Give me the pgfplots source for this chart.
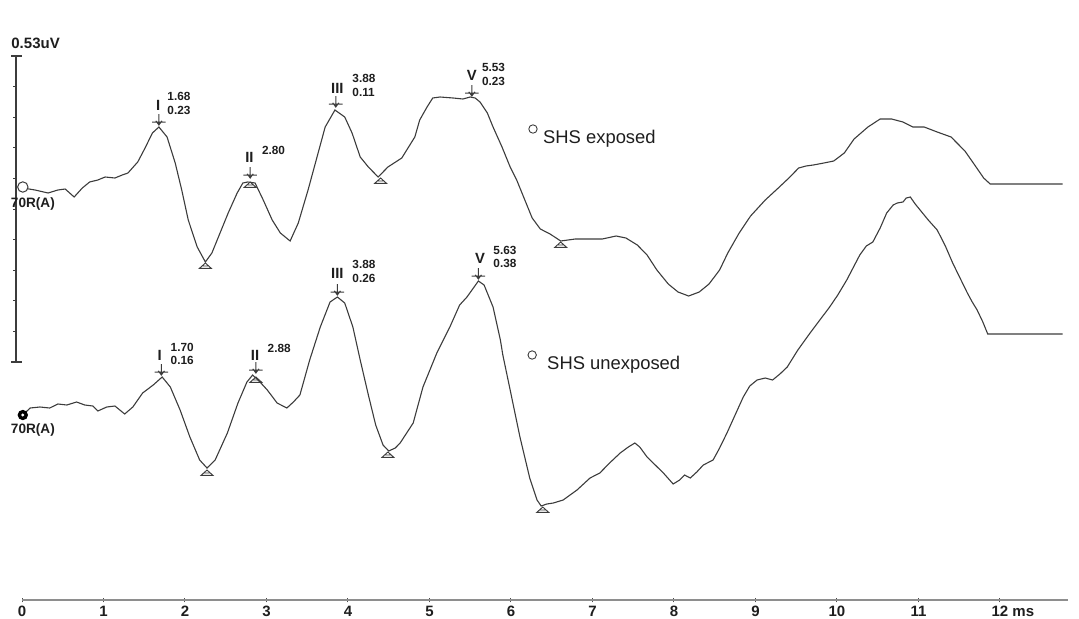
\documentclass[border=0pt]{standalone}
\usepackage{pgfplots}
\usepackage{pgfplotstable}
\pgfplotsset{compat=1.18}
\usepackage{fontspec}
\setmainfont{Liberation Sans}
\definecolor{trace}{HTML}{3C3C3C}
\definecolor{axisgray}{HTML}{8E8E8E}
\definecolor{txt}{HTML}{1E1E1E}

% Upper trace: SHS exposed (x in ms, y = height in picture units)
\pgfplotstableread{
x y
0.01 430
0.16 428
0.32 425
0.44 428
0.53 429
0.64 421
0.74 430
0.83 436
0.93 438
1.02 441
1.14 440
1.23 443
1.30 445
1.42 456
1.51 470
1.60 485
1.68 491
1.78 481
1.88 455
1.96 428
2.04 398
2.15 371
2.25 356
2.33 365
2.43 385
2.53 405
2.64 425
2.71 435
2.77 436
2.86 435
2.96 418
3.07 398
3.17 385
3.29 377
3.39 395
3.51 428
3.62 461
3.72 491
3.84 508
3.96 501
4.05 485
4.15 461
4.25 451
4.37 441
4.49 451
4.66 460
4.82 481
4.88 498
4.97 511
5.04 520
5.13 521
5.29 520
5.41 519
5.50 521
5.56 520
5.62 516
5.71 505
5.78 491
5.89 471
5.99 451
6.07 438
6.17 418
6.26 400
6.36 389
6.48 384
6.61 377
6.79 379
6.99 379
7.12 379
7.29 382
7.41 380
7.55 373
7.67 363
7.79 348
7.93 334
8.05 326
8.18 322
8.31 326
8.43 334
8.56 348
8.66 365
8.80 385
8.94 402
9.12 418
9.28 430
9.41 440
9.53 450
9.62 452
9.71 453
9.84 455
9.96 457
10.09 465
10.21 479
10.38 491
10.53 499
10.67 499
10.81 496
10.93 491
11.07 491
11.23 486
11.40 481
11.57 467
11.69 453
11.80 440
11.88 434
12.77 434
}\uppertab

% Lower trace: SHS unexposed
\pgfplotstableread{
x y
0.01 203
0.10 210
0.22 211
0.34 210
0.44 214
0.55 213
0.67 216
0.77 213
0.87 212
0.93 207
1.04 211
1.14 212
1.26 204
1.36 211
1.48 225
1.61 233
1.72 241
1.82 231
1.94 208
2.06 181
2.18 158
2.27 150
2.37 158
2.52 185
2.65 215
2.76 236
2.83 243
2.92 236
3.01 228
3.13 215
3.25 210
3.33 216
3.41 223
3.53 258
3.66 291
3.78 316
3.87 321
3.96 315
4.06 291
4.15 258
4.25 223
4.34 193
4.43 173
4.50 167
4.58 170
4.64 175
4.80 195
4.92 231
5.09 265
5.25 291
5.37 313
5.46 321
5.60 337
5.67 333
5.78 311
5.87 278
5.90 263
5.99 228
6.11 181
6.23 140
6.32 118
6.37 112
6.44 114
6.52 115
6.64 118
6.81 128
6.97 140
7.09 145
7.21 155
7.34 165
7.44 171
7.52 175
7.58 171
7.67 161
7.77 153
7.87 145
7.99 134
8.07 138
8.13 143
8.20 140
8.28 146
8.36 153
8.48 158
8.56 170
8.65 185
8.75 203
8.85 221
8.93 232
9.02 238
9.12 240
9.21 238
9.30 244
9.39 251
9.52 268
9.67 285
9.79 298
9.91 311
10.01 323
10.12 338
10.28 363
10.36 372
10.44 376
10.53 390
10.61 405
10.69 413
10.74 415
10.81 416
10.85 420
10.90 421
10.96 414
11.02 408
11.12 398
11.23 388
11.33 372
11.42 355
11.51 340
11.60 325
11.66 316
11.72 308
11.79 296
11.85 284
12.77 284
}\lowertab

% peak marker: down arrow with a bar, tip at named coordinate
\newcommand\peakmk[1]{%
  \draw[trace, line width=0.5pt] (#1) -- ++(0,5.5pt)
    ([shift={(-3.4pt,1.4pt)}]#1) -- ++(6.8pt,0)
    ([shift={(-1.5pt,2.1pt)}]#1) -- ++(1.5pt,-2.1pt) -- ++(1.5pt,2.1pt);}
% trough marker: open triangle, apex at named coordinate
\newcommand\troughmk[1]{%
  \draw[trace, line width=0.45pt] (#1) -- ++(-3pt,-2.7pt) -- ++(6pt,0) -- cycle
    ([shift={(-1.6pt,-1.5pt)}]#1) -- ++(3.2pt,0);}
\newcommand\sbtick[1]{\draw[trace, line width=0.5pt] (axis cs:-0.11,#1) -- (axis cs:-0.074,#1);}
\newcommand\numfont{\fontsize{5.9}{6.6}\selectfont\bfseries}
\newcommand\romfont{\fontsize{7.4}{8}\selectfont\bfseries}

\begin{document}
\begin{tikzpicture}
\begin{axis}[
  scale only axis, width=539.5pt, height=300pt,
  xmin=-0.27, xmax=12.97, ymin=18, ymax=618,
  axis x line*=bottom, axis y line=none,
  x axis line style={draw=none},
  xtick={0,...,12},
  xticklabels={0,1,2,3,4,5,6,7,8,9,10,11,{12\rlap{ ms}}},
  xticklabel style={font=\fontsize{7.5}{8}\selectfont\bfseries, text=txt, yshift=1.6pt},
  major tick length=2.4pt, tick align=center,
  tick style={black!70, line width=0.5pt},
  clip=false,
]
% x axis line
\addplot[axisgray, line width=0.8pt, forget plot] coordinates {(0,18) (12.83,18)};
% traces
\addplot[trace, line width=0.55pt] table[x=x,y=y] {\uppertab};
\addplot[trace, line width=0.55pt] table[x=x,y=y] {\lowertab};

% scale bar
\draw[trace, line width=0.6pt] (axis cs:-0.074,562) -- (axis cs:-0.074,256);
\draw[trace, line width=0.8pt] (axis cs:-0.135,562) -- (axis cs:0.0,562);
\draw[trace, line width=0.8pt] (axis cs:-0.135,256) -- (axis cs:0.0,256);
\sbtick{531.4}\sbtick{500.8}\sbtick{470.2}\sbtick{439.6}\sbtick{409}
\sbtick{378.4}\sbtick{347.8}\sbtick{317.2}\sbtick{286.6}
\node[anchor=west, inner sep=0, font=\fontsize{7.5}{8}\selectfont\bfseries, text=txt] at (axis cs:-0.135,575) {0.53uV};
\node[anchor=west, inner sep=0, font=\fontsize{6.8}{7}\selectfont\bfseries, text=txt] at (axis cs:-0.14,414) {70R(A)};
\node[anchor=west, inner sep=0, font=\fontsize{6.8}{7}\selectfont\bfseries, text=txt] at (axis cs:-0.14,188) {70R(A)};

% start markers
\draw[trace, fill=white, line width=0.5pt] (axis cs:0.01,431) circle[radius=2.6pt];
\fill[black] (axis cs:0.01,203) circle[radius=2.6pt];
\fill[white] (axis cs:0.01,203) circle[radius=0.8pt];

% ---- upper annotations
\coordinate (pA) at (axis cs:1.68,493);
\node[font=\romfont, text=txt, inner sep=0] at (axis cs:1.67,513) {I};
\node[anchor=west, align=left, font=\numfont, text=txt, inner sep=0] at (axis cs:1.78,514.5) {1.68\\0.23};
\coordinate (tA) at (axis cs:2.25,355);
\coordinate (pB) at (axis cs:2.80,440);
\coordinate (tB) at (axis cs:2.80,436);
\node[font=\romfont, text=txt, inner sep=0] at (axis cs:2.79,461) {II};
\node[anchor=west, font=\numfont, text=txt, inner sep=0] at (axis cs:2.94,468) {2.80};
\coordinate (pC) at (axis cs:3.85,511);
\node[font=\romfont, text=txt, inner sep=0] at (axis cs:3.87,530) {III};
\node[anchor=west, align=left, font=\numfont, text=txt, inner sep=0] at (axis cs:4.05,532.5) {3.88\\0.11};
\coordinate (tC) at (axis cs:4.40,440);
\coordinate (pD) at (axis cs:5.52,522);
\node[font=\romfont, text=txt, inner sep=0] at (axis cs:5.52,543) {V};
\node[anchor=west, align=left, font=\numfont, text=txt, inner sep=0] at (axis cs:5.64,543.5) {5.53\\0.23};
\coordinate (tD) at (axis cs:6.61,376);
\draw[trace, line width=0.45pt] (axis cs:6.27,489) circle[radius=2.1pt];
\node[anchor=west, inner sep=0, font=\fontsize{9.2}{10}\selectfont, text=txt] at (axis cs:6.39,479) {SHS exposed};

% ---- lower annotations
\coordinate (pE) at (axis cs:1.71,243);
\node[font=\romfont, text=txt, inner sep=0] at (axis cs:1.69,263) {I};
\node[anchor=west, align=left, font=\numfont, text=txt, inner sep=0] at (axis cs:1.82,264) {1.70\\0.16};
\coordinate (tE) at (axis cs:2.27,148);
\coordinate (pF) at (axis cs:2.87,245);
\coordinate (tF) at (axis cs:2.87,241);
\node[font=\romfont, text=txt, inner sep=0] at (axis cs:2.86,263) {II};
\node[anchor=west, font=\numfont, text=txt, inner sep=0] at (axis cs:3.01,270) {2.88};
\coordinate (pG) at (axis cs:3.87,323);
\node[font=\romfont, text=txt, inner sep=0] at (axis cs:3.87,345) {III};
\node[anchor=west, align=left, font=\numfont, text=txt, inner sep=0] at (axis cs:4.05,346.5) {3.88\\0.26};
\coordinate (tG) at (axis cs:4.49,166);
\coordinate (pH) at (axis cs:5.60,339);
\node[font=\romfont, text=txt, inner sep=0] at (axis cs:5.62,360) {V};
\node[anchor=west, align=left, font=\numfont, text=txt, inner sep=0] at (axis cs:5.78,361) {5.63\\0.38};
\coordinate (tH) at (axis cs:6.39,111);
\draw[trace, line width=0.45pt] (axis cs:6.26,263) circle[radius=2.1pt];
\node[anchor=west, inner sep=0, font=\fontsize{9.2}{10}\selectfont, text=txt] at (axis cs:6.44,253) {SHS unexposed};

\coordinate (bbsw) at (axis cs:-0.27,0);
\coordinate (bbne) at (axis cs:12.97,618);
\end{axis}
\peakmk{pA}\peakmk{pB}\peakmk{pC}\peakmk{pD}
\peakmk{pE}\peakmk{pF}\peakmk{pG}\peakmk{pH}
\troughmk{tA}\troughmk{tB}\troughmk{tC}\troughmk{tD}
\troughmk{tE}\troughmk{tF}\troughmk{tG}\troughmk{tH}
\pgfresetboundingbox
\useasboundingbox (bbsw) rectangle (bbne);
\end{tikzpicture}
\end{document}
